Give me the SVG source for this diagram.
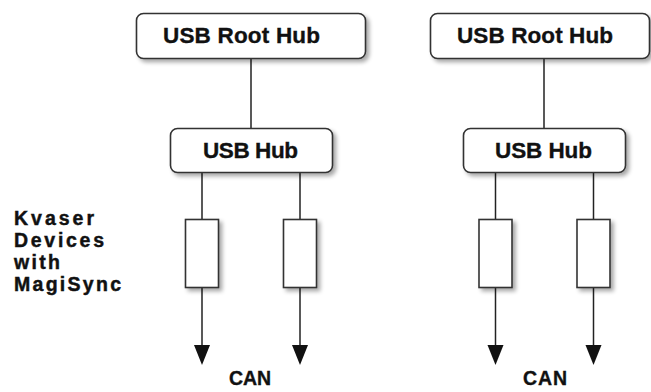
<svg xmlns="http://www.w3.org/2000/svg" width="651" height="392" viewBox="0 0 651 392">
  <defs>
    <filter id="sh" x="-20%" y="-20%" width="150%" height="150%">
      <feGaussianBlur in="SourceAlpha" stdDeviation="2"/>
      <feOffset dx="3" dy="3" result="b"/>
      <feComponentTransfer><feFuncA type="linear" slope="0.35"/></feComponentTransfer>
      <feMerge><feMergeNode/><feMergeNode in="SourceGraphic"/></feMerge>
    </filter>
  </defs>
  <style>
    .box { fill: #fff; stroke: #333; stroke-width: 1.6; filter: url(#sh); }
    .lbl { font-family: "Liberation Sans", Arial, sans-serif; font-weight: bold; font-size: 22.5px; fill: #111; stroke: #111; stroke-width: 0.35px; }
    .side { font-family: "Liberation Sans", Arial, sans-serif; font-weight: bold; font-size: 19.5px; fill: #111; stroke: #111; stroke-width: 0.45px; }
    .can { font-family: "Liberation Sans", Arial, sans-serif; font-weight: bold; font-size: 19.5px; fill: #111; stroke: #111; stroke-width: 0.35px; }
    .ln { stroke: #222; stroke-width: 1.5; fill: none; }
    .ah { fill: #111; }
  </style>
  <rect width="651" height="392" fill="#fff"/>

  <g id="connectors">
    <line class="ln" x1="251" y1="59" x2="251" y2="128"/>
    <line class="ln" x1="544" y1="59" x2="544" y2="128"/>
    <line class="ln" x1="202" y1="173" x2="202" y2="219"/>
    <line class="ln" x1="300" y1="173" x2="300" y2="219"/>
    <line class="ln" x1="495.5" y1="173" x2="495.5" y2="219"/>
    <line class="ln" x1="593.5" y1="173" x2="593.5" y2="219"/>
    <line class="ln" x1="202" y1="288" x2="202" y2="350"/>
    <line class="ln" x1="300" y1="288" x2="300" y2="350"/>
    <line class="ln" x1="495.5" y1="288" x2="495.5" y2="350"/>
    <line class="ln" x1="593.5" y1="288" x2="593.5" y2="350"/>
    <path class="ah" d="M194,345 L210,345 L202,365 Z"/>
    <path class="ah" d="M292,345 L308,345 L300,365 Z"/>
    <path class="ah" d="M487.5,345 L503.5,345 L495.5,365 Z"/>
    <path class="ah" d="M585.5,345 L601.5,345 L593.5,365 Z"/>
  </g>

  <g id="root-hub-left">
    <rect class="box" x="136.5" y="13.5" width="229" height="45" rx="7"/>
    <text class="lbl" x="163" y="43" textLength="157" lengthAdjust="spacing">USB Root Hub</text>
  </g>
  <g id="root-hub-right">
    <rect class="box" x="430.5" y="13.5" width="219" height="45" rx="7"/>
    <text class="lbl" x="457" y="43" textLength="156" lengthAdjust="spacing">USB Root Hub</text>
  </g>
  <g id="hub-left">
    <rect class="box" x="170.5" y="128.5" width="162" height="44" rx="7"/>
    <text class="lbl" x="203" y="158" textLength="95" lengthAdjust="spacing">USB Hub</text>
  </g>
  <g id="hub-right">
    <rect class="box" x="463.5" y="128.5" width="162" height="44" rx="7"/>
    <text class="lbl" x="495" y="158" textLength="97" lengthAdjust="spacing">USB Hub</text>
  </g>

  <g id="device-1"><rect class="box" x="185.5" y="219.5" width="33" height="68"/></g>
  <g id="device-2"><rect class="box" x="283.5" y="219.5" width="33" height="68"/></g>
  <g id="device-3"><rect class="box" x="479" y="219.5" width="33" height="68"/></g>
  <g id="device-4"><rect class="box" x="577" y="219.5" width="33" height="68"/></g>

  <g id="label-devices">
    <text class="side" x="14" y="225" textLength="80" lengthAdjust="spacing">Kvaser</text>
    <text class="side" x="14" y="247" textLength="90" lengthAdjust="spacing">Devices</text>
    <text class="side" x="14" y="269" textLength="46" lengthAdjust="spacing">with</text>
    <text class="side" x="14" y="291" textLength="107" lengthAdjust="spacing">MagiSync</text>
  </g>
  <g id="label-can-left"><text class="can" x="229" y="385" textLength="42" lengthAdjust="spacing">CAN</text></g>
  <g id="label-can-right"><text class="can" x="523" y="385" textLength="44" lengthAdjust="spacing">CAN</text></g>
</svg>
